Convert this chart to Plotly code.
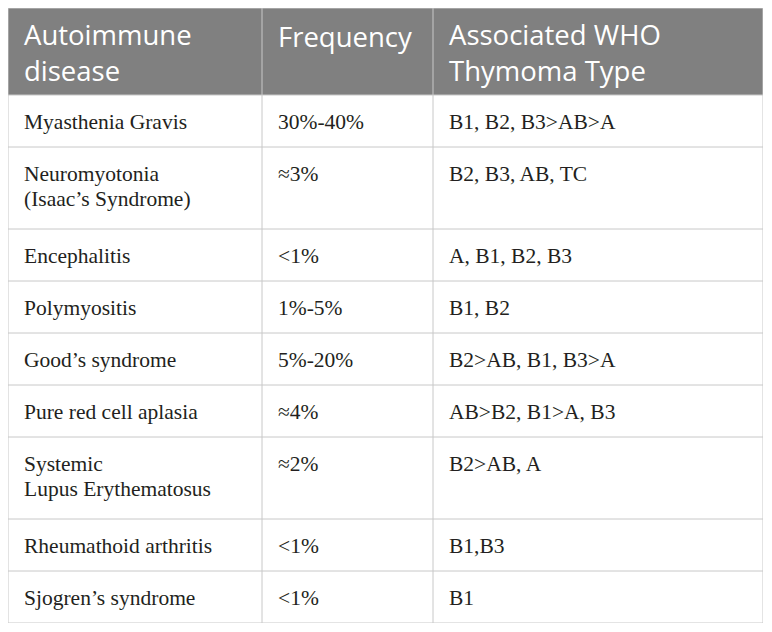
import plotly.graph_objects as go

header_labels = ["Autoimmune<br>disease", "Frequency", "Associated WHO<br>Thymoma Type"]

diseases = [
    "Myasthenia Gravis",
    "Neuromyotonia<br>(Isaac’s Syndrome)",
    "Encephalitis",
    "Polymyositis",
    "Good’s syndrome",
    "Pure red cell aplasia",
    "Systemic<br>Lupus Erythematosus",
    "Rheumathoid arthritis",
    "Sjogren’s syndrome",
]
frequencies = ["30%-40%", "≈3%", "<1%", "1%-5%", "5%-20%", "≈4%", "≈2%", "<1%", "<1%"]
thymoma_types = [
    "B1, B2, B3>AB>A",
    "B2, B3, AB, TC",
    "A, B1, B2, B3",
    "B1, B2",
    "B2>AB, B1, B3>A",
    "AB>B2, B1>A, B3",
    "B2>AB, A",
    "B1,B3",
    "B1",
]

# layout (pixels)
col_widths = [254, 171, 330]
header_h = 87
row_h, extra_line_h = 52, 30
pad_x = 14
body_line = 24.5

line_col = "#c8c8c8"
head_fill = "#808080"
text_col = "#231f20"
body_font = dict(family="Liberation Serif", size=21.5, color=text_col)
head_font = dict(family="Open Sans", size=27.5, color="white")

columns = [diseases, frequencies, thymoma_types]

col_left = [0]
for w in col_widths:
    col_left.append(col_left[-1] + w)
total_w = col_left[-1]

row_tops = [header_h]
for i in range(len(diseases)):
    n = max(len(c[i].split("<br>")) for c in columns)
    row_tops.append(row_tops[-1] + row_h + extra_line_h * (n - 1))
total_h = row_tops[-1]

fig = go.Figure()

shapes = [dict(type="rect", x0=0, x1=total_w, y0=0, y1=header_h,
               fillcolor=head_fill, line=dict(width=0), layer="below")]
for y in [0] + row_tops:
    shapes.append(dict(type="line", x0=0, x1=total_w, y0=y, y1=y,
                       line=dict(color=line_col, width=1)))
for x in col_left:
    shapes.append(dict(type="line", x0=x, x1=x, y0=0, y1=total_h,
                       line=dict(color=line_col, width=1)))

annotations = []
for j, label in enumerate(header_labels):
    two = "<br>" in label
    annotations.append(dict(x=col_left[j] + pad_x, y=44.5 if two else 28.5, text=label,
                            xanchor="left", yanchor="middle", align="left",
                            showarrow=False, font=head_font))
for j, col in enumerate(columns):
    for i, txt in enumerate(col):
        for k, part in enumerate(txt.split("<br>")):
            annotations.append(dict(x=col_left[j] + pad_x, y=row_tops[i] + 27 + k * body_line,
                                    text=part, xanchor="left", yanchor="middle",
                                    showarrow=False, font=body_font))

fig.update_layout(
    width=764, height=624,
    margin=dict(l=0, r=9, t=0, b=9),
    paper_bgcolor="white", plot_bgcolor="white",
    xaxis=dict(range=[0, total_w], visible=False, fixedrange=True),
    yaxis=dict(range=[total_h, 0], visible=False, fixedrange=True),
    shapes=shapes, annotations=annotations,
    showlegend=False,
)

fig.write_html("out.html")
